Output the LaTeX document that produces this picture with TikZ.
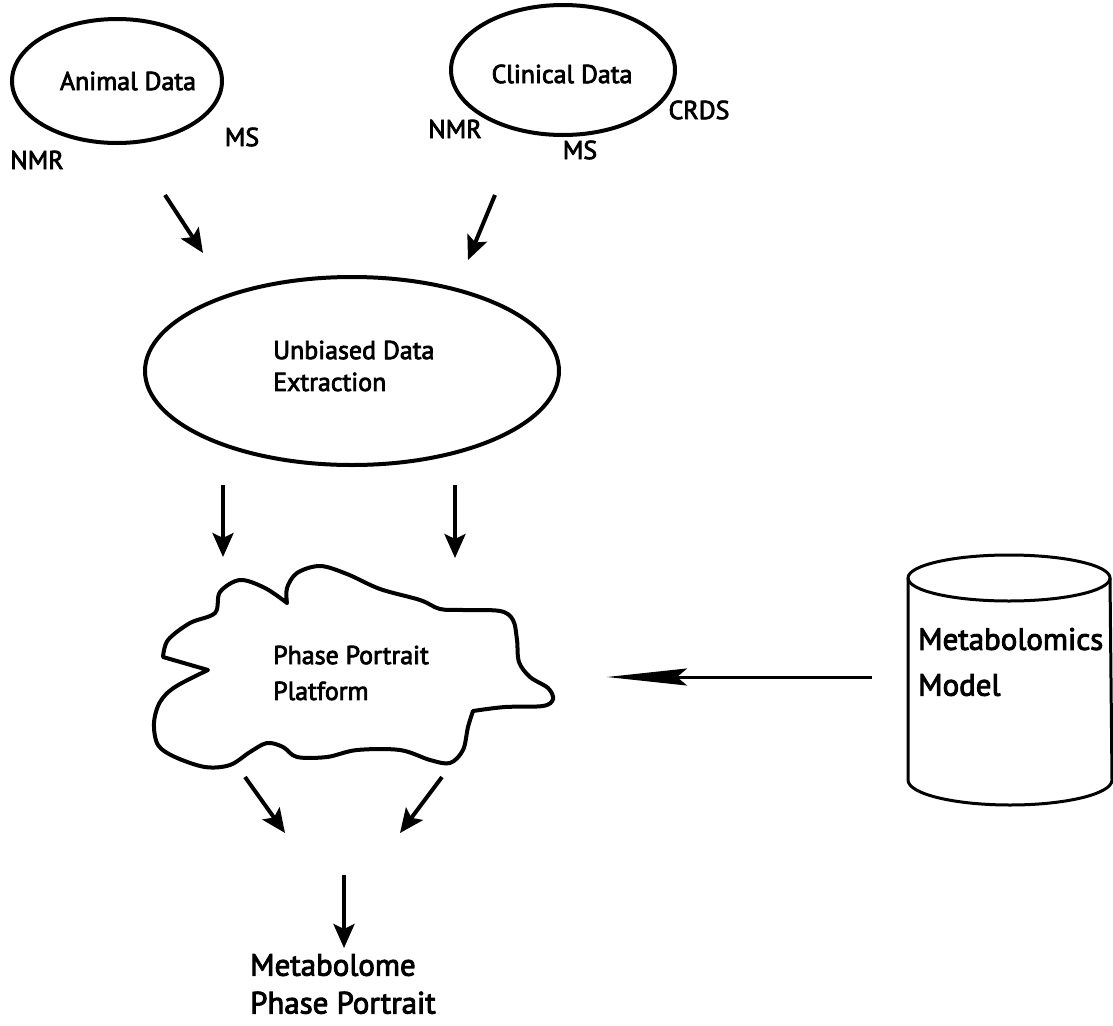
\documentclass[tikz,border=0pt]{standalone}
\usepackage{fontspec}
\setmainfont{PT Sans}[FakeBold=3]
\usetikzlibrary{shapes.geometric,arrows.meta}
\begin{document}
\begin{tikzpicture}[x=1bp,y=-1bp,
  oval/.style={ellipse, draw=black, line width=4bp, inner sep=0pt},
  lbl/.style={font=\fontsize{26}{32}\selectfont, inner sep=0pt},
  biglbl/.style={font=\fontsize{31}{38}\selectfont, inner sep=0pt, align=left},
  arr/.style={line width=4bp, -{Stealth[length=24bp,width=21bp,inset=5bp]}},
  longarr/.style={line width=3bp, -{Stealth[length=80bp,width=17bp,inset=10bp]}},
  outline/.style={draw=black, line width=4bp, line join=round, line cap=round},
]
\useasboundingbox (0,0) rectangle (1113,1026);

% data sources
\node[oval, minimum width=210bp, minimum height=124bp] (animal) at (117,81) {};
\node[lbl] (animaltxt) at (128,81) {Animal Data};
\node[lbl] (anmr) at (37,160) {NMR};
\node[lbl] (ams) at (242,137) {MS};

\node[oval, minimum width=224bp, minimum height=130bp] (clinical) at (563,70) {};
\node[lbl] (clintxt) at (562,74) {Clinical Data};
\node[lbl] (cnmr) at (455,129) {NMR};
\node[lbl] (cms) at (580,150) {MS};
\node[lbl] (ccrds) at (699,110) {CRDS};

% extraction step
\node[oval, minimum width=414bp, minimum height=188bp] (extract) at (352,371) {};
\node[lbl, align=left, anchor=west] (extxt) at (273,366) {Unbiased Data\\Extraction};

% cloud
\draw[outline]
  plot[smooth, tension=0.55] coordinates {(287,603) (287,588) (297,573) (320,566) (347,574) (380,589) (420,600) (440,609) (463,610) (500,611) (513,620) (517,640) (519,662) (530,677) (548,688) (553,699) (543,706) (505,707) (473,711)}
  -- plot[smooth, tension=0.55] coordinates {(473,711) (468,727) (463,750) (450,763) (430,760) (400,750) (357,750) (327,757) (297,757) (283,747) (267,743) (250,752) (230,765) (205,767) (175,757) (158,745) (154,723) (160,702) (175,687) (208,670)}
  -- plot[smooth, tension=0.55] coordinates {(163,657) (168,640) (190,623) (215,613) (220,592) (240,580) (265,588) (287,603)};
\node[lbl, font=\fontsize{26}{36}\selectfont, align=left, anchor=west] (pptxt) at (273,673) {Phase Portrait\\Platform};

% model store
\draw[outline, line width=3bp] (908,578) -- (908,780) arc[start angle=180, end angle=0, x radius=102, y radius=25] -- (1110,578);
\draw[outline, line width=3bp] (1009,578) ellipse [x radius=101, y radius=23];
\node[biglbl, font=\fontsize{31}{46}\selectfont, anchor=west] (modeltxt) at (918,662) {Metabolomics\\Model};

% result
\node[biglbl, anchor=west] (result) at (250,984) {Metabolome\\Phase Portrait};

% connectors
\coordinate (a1) at (165,195); \coordinate (a2) at (203,253);
\coordinate (c1) at (495,195); \coordinate (c2) at (468,260);
\coordinate (e1) at (223,485); \coordinate (e2) at (223,557);
\coordinate (e3) at (455,485); \coordinate (e4) at (455,558);
\coordinate (p1) at (245,777); \coordinate (p2) at (285,833);
\coordinate (p3) at (442,777); \coordinate (p4) at (400,833);
\coordinate (r1) at (344,875); \coordinate (r2) at (344,948);
\coordinate (m1) at (872,677); \coordinate (m2) at (607,677);
\draw[arr] (a1) -- (a2);
\draw[arr] (c1) -- (c2);
\draw[arr] (e1) -- (e2);
\draw[arr] (e3) -- (e4);
\draw[arr] (p1) -- (p2);
\draw[arr] (p3) -- (p4);
\draw[arr] (r1) -- (r2);
\draw[longarr] (m1) -- (m2);
\end{tikzpicture}
\end{document}
